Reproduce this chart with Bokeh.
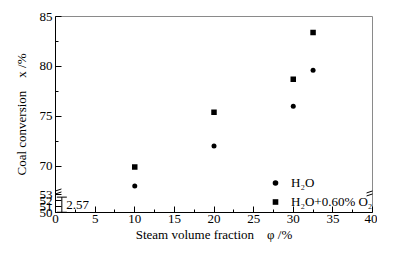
from bokeh.plotting import figure
from bokeh.models import (Range1d, FixedTicker, Legend, LegendItem, Whisker, TeeHead,
                          ColumnDataSource, Label, Arrow)
from bokeh.embed import file_html
from bokeh.resources import INLINE

# ---- data ----
steam_fraction = [10, 20, 30, 32.5]
conv_h2o = [68.0, 72.0, 76.0, 79.6]
conv_h2o_o2 = [69.9, 75.4, 78.7, 83.4]
series_names = ["H\u2082O", "H\u2082O+0.60% O\u2082"]

x_ticks = [0, 5, 10, 15, 20, 25, 30, 35, 40]
x_minor = [2.5, 7.5, 12.5, 17.5, 22.5, 27.5, 32.5, 37.5]
upper_ticks = [70, 75, 80, 85]
upper_minor = [72.5, 77.5, 82.5]
lower_ticks = [50, 51, 52, 53]

err_x = [0.8]
err_low = [50.0]
err_high = [52.57]
err_text = "2.57"

# ---- broken axis geometry ----
UP_START, UP_END = 65.34, 85.0       # upper segment (main range)
LOW_START = 50.0                     # lower segment start
LOW_RATIO = 0.6                      # upper units per lower unit
LOW_END = LOW_START + (UP_END - UP_START) / LOW_RATIO
BREAK_Y = 67.35

def low_to_up(v):
    return round(UP_START + (v - LOW_START) * LOW_RATIO, 3)

FONT = "Liberation Serif"
NB = "\u00a0"

p = figure(width=377, height=244, output_backend="svg", toolbar_location=None,
           x_range=Range1d(0, 40), y_range=Range1d(UP_START, UP_END),
           min_border_left=55, min_border_right=5, min_border_top=16, min_border_bottom=30)
p.extra_y_ranges = {"low": Range1d(LOW_START, LOW_END)}
p.grid.visible = False
p.outline_line_color = "#8a8a8a"
p.background_fill_color = "white"
p.border_fill_color = "white"

# x axis
xa = p.xaxis[0]
xa.ticker = FixedTicker(ticks=x_ticks, minor_ticks=x_minor)
xa.axis_label = "Steam volume fraction" + NB * 4 + "\u03c6 /%"
# y axis
ya = p.yaxis[0]
mapped = [low_to_up(t) for t in lower_ticks]
ya.ticker = FixedTicker(ticks=upper_ticks + mapped, minor_ticks=upper_minor)
ya.major_label_overrides = {m: str(t) for m, t in zip(mapped, lower_ticks)}
ya.axis_label = "Coal conversion" + NB * 4 + "x /%"

for ax in (xa, ya):
    ax.major_tick_in = 6
    ax.major_tick_out = 0
    ax.minor_tick_in = 3
    ax.minor_tick_out = 0
    ax.axis_line_color = "black"
    ax.major_tick_line_color = "black"
    ax.minor_tick_line_color = "black"
    ax.major_label_text_font = FONT
    ax.major_label_text_font_size = "13px"
    ax.major_label_text_color = "black"
    ax.axis_label_text_font = FONT
    ax.axis_label_text_font_size = "13px"
    ax.axis_label_text_font_style = "normal"
    ax.axis_label_text_color = "black"
xa.major_label_standoff = 2
xa.axis_label_standoff = 1
ya.major_label_standoff = 3
ya.axis_label_standoff = 8

# data points
r1 = p.scatter(steam_fraction, conv_h2o, marker="circle", size=5, color="black", line_color=None)
r2 = p.scatter(steam_fraction, conv_h2o_o2, marker="square", size=5.5, color="black", line_color=None)

legend = Legend(items=[LegendItem(label=series_names[0], renderers=[r1]),
                       LegendItem(label=series_names[1], renderers=[r2])],
                location=(213, 1), orientation="vertical",
                border_line_color=None, background_fill_alpha=0,
                padding=0, margin=0, spacing=0,
                glyph_width=14, glyph_height=19, label_height=19,
                label_standoff=9, label_text_font=FONT,
                label_text_font_size="13px", label_text_color="black")
p.add_layout(legend)

# error bar in the lower segment
src = ColumnDataSource(dict(x=err_x, lo=err_low, hi=err_high))
wh = Whisker(base="x", lower="lo", upper="hi", source=src, dimension="height",
             y_range_name="low", line_color="black", line_width=1,
             upper_head=TeeHead(size=10, line_color="black", line_width=1),
             lower_head=TeeHead(size=10, line_color="black", line_width=1.5))
p.add_layout(wh)
p.add_layout(Label(x=err_x[0] + 0.55, y=(err_low[0] + err_high[0]) / 2, y_range_name="low",
                   text=err_text, text_font=FONT, text_font_size="13px",
                   text_baseline="middle", text_color="black"))

# break marks
dx, dy, gap = 0.75, 0.2, 0.3
for xc in (0, 40):
    for off in (-gap / 2, gap / 2):
        p.add_layout(Arrow(end=None, x_start=xc - dx, y_start=BREAK_Y + off - dy,
                           x_end=xc + dx, y_end=BREAK_Y + off + dy,
                           line_color="black", line_width=1))

open("out.html", "w").write(file_html(p, INLINE))
